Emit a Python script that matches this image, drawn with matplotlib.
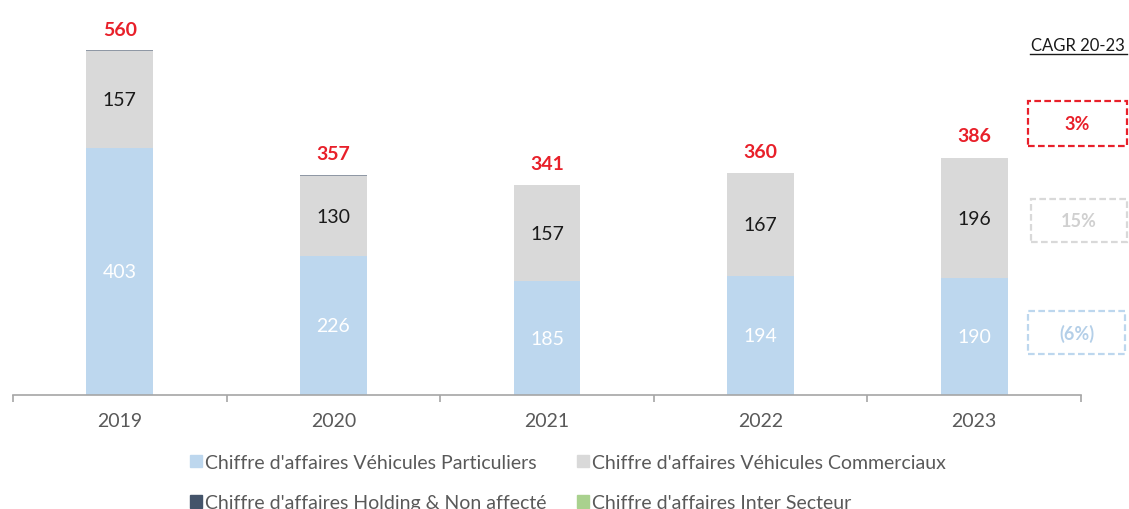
import numpy as np
import matplotlib
matplotlib.use('Agg')
import matplotlib.pyplot as plt
from matplotlib.patches import Patch, Rectangle
from matplotlib.lines import Line2D

plt.rcParams['font.family'] = ['Lato', 'DejaVu Sans']

years = ['2019', '2020', '2021', '2022', '2023']
particuliers = [403, 226, 185, 194, 190]
commerciaux = [157, 130, 157, 167, 196]
holding = [2, 1.5, 0.8, 0, 0]
inter_secteur = [0, 0, 0, 0, 0]
totals = [560, 357, 341, 360, 386]

cagr_labels = ['3%', '15%', '(6%)']

c_blue = '#bdd7ee'
c_grey = '#d9d9d9'
c_navy = '#44546a'
c_green = '#a9d18e'
c_red = '#e8202a'

W, H = 1129, 510
fig = plt.figure(figsize=(W / 100, H / 100), dpi=100)
ax = fig.add_axes([13 / W, 1 - 396 / H, 1068 / W, 396 / H])

x = np.arange(len(years))
bw = 0.313
p = np.array(particuliers, dtype=float)
c = np.array(commerciaux, dtype=float)
h = np.array(holding, dtype=float)
g = np.array(inter_secteur, dtype=float)

ax.bar(x, p, bw, color=c_blue)
ax.bar(x, c, bw, bottom=p, color=c_grey)
ax.bar(x, h, bw, bottom=p + c, color=c_navy, alpha=0.6)
ax.bar(x, g, bw, bottom=p + c + h, color=c_green)

for i in range(len(years)):
    ax.text(x[i], p[i] / 2, str(particuliers[i]), ha='center', va='center',
            color='white', fontsize=14)
    ax.text(x[i], p[i] + c[i] / 2, str(commerciaux[i]), ha='center', va='center',
            color='#1a1a1a', fontsize=14)
    ax.text(x[i], totals[i] + 36, str(totals[i]), ha='center', va='center',
            color=c_red, fontsize=14, fontweight='bold')

ax.set_xlim(-0.5, len(years) - 0.5)
ax.set_ylim(0, 396 / 0.614)
ax.set_yticks([])
for s in ['top', 'right', 'left']:
    ax.spines[s].set_visible(False)
ax.spines['bottom'].set_color('#a6a6a6')
ax.spines['bottom'].set_linewidth(1.2)
ax.set_xticks(x)
ax.set_xticklabels(years, fontsize=14, color='#595959')
ax.set_xticks(np.arange(len(years) + 1) - 0.5, minor=True)
ax.tick_params(axis='x', which='major', length=0, pad=12)
ax.tick_params(axis='x', which='minor', length=5, width=1.2, color='#a6a6a6', direction='out')

# CAGR column
fig.text(1078 / W, 1 - 46 / H, 'CAGR 20-23', ha='center', va='center',
         fontsize=12, color='#1a1a1a')
fig.add_artist(Line2D([1030 / W, 1127 / W], [1 - 55 / H, 1 - 55 / H],
                      transform=fig.transFigure, color='#1a1a1a', lw=1))

boxes = [(1028, 102, 1127, 147, c_red, c_red, 'bold'),
         (1031, 200, 1127, 243, '#d9d9d9', '#d0d0d0', 'bold'),
         (1028, 312, 1125, 355, c_blue, '#b4cfe8', 'bold')]
for (x0, y0, x1, y1, ec, tc, fw), lab in zip(boxes, cagr_labels):
    fig.add_artist(Rectangle((x0 / W, 1 - y1 / H), (x1 - x0) / W, (y1 - y0) / H,
                             transform=fig.transFigure, fill=False, edgecolor=ec,
                             lw=1.6, linestyle=(0, (3, 1.5))))
    fig.text((x0 + x1) / 2 / W, 1 - (y0 + y1) / 2 / H, lab, ha='center', va='center',
             fontsize=13, color=tc, fontweight=fw)

handles = [Patch(color=c_blue), Patch(color=c_grey), Patch(color=c_navy), Patch(color=c_green)]
labels = ["Chiffre d'affaires Véhicules Particuliers",
          "Chiffre d'affaires Véhicules Commerciaux",
          "Chiffre d'affaires Holding & Non affecté",
          "Chiffre d'affaires Inter Secteur"]
order = [0, 2, 1, 3]
fig.legend([handles[i] for i in order], [labels[i] for i in order], ncol=2,
           loc='upper left', bbox_to_anchor=(190 / W, 1 - 455 / H),
           frameon=False, fontsize=14, handlelength=0.6, handleheight=0.6,
           handletextpad=0.15, columnspacing=1.6, labelspacing=1.2,
           borderpad=0, borderaxespad=0, labelcolor='#595959')

fig.savefig('out.png', dpi=100)
